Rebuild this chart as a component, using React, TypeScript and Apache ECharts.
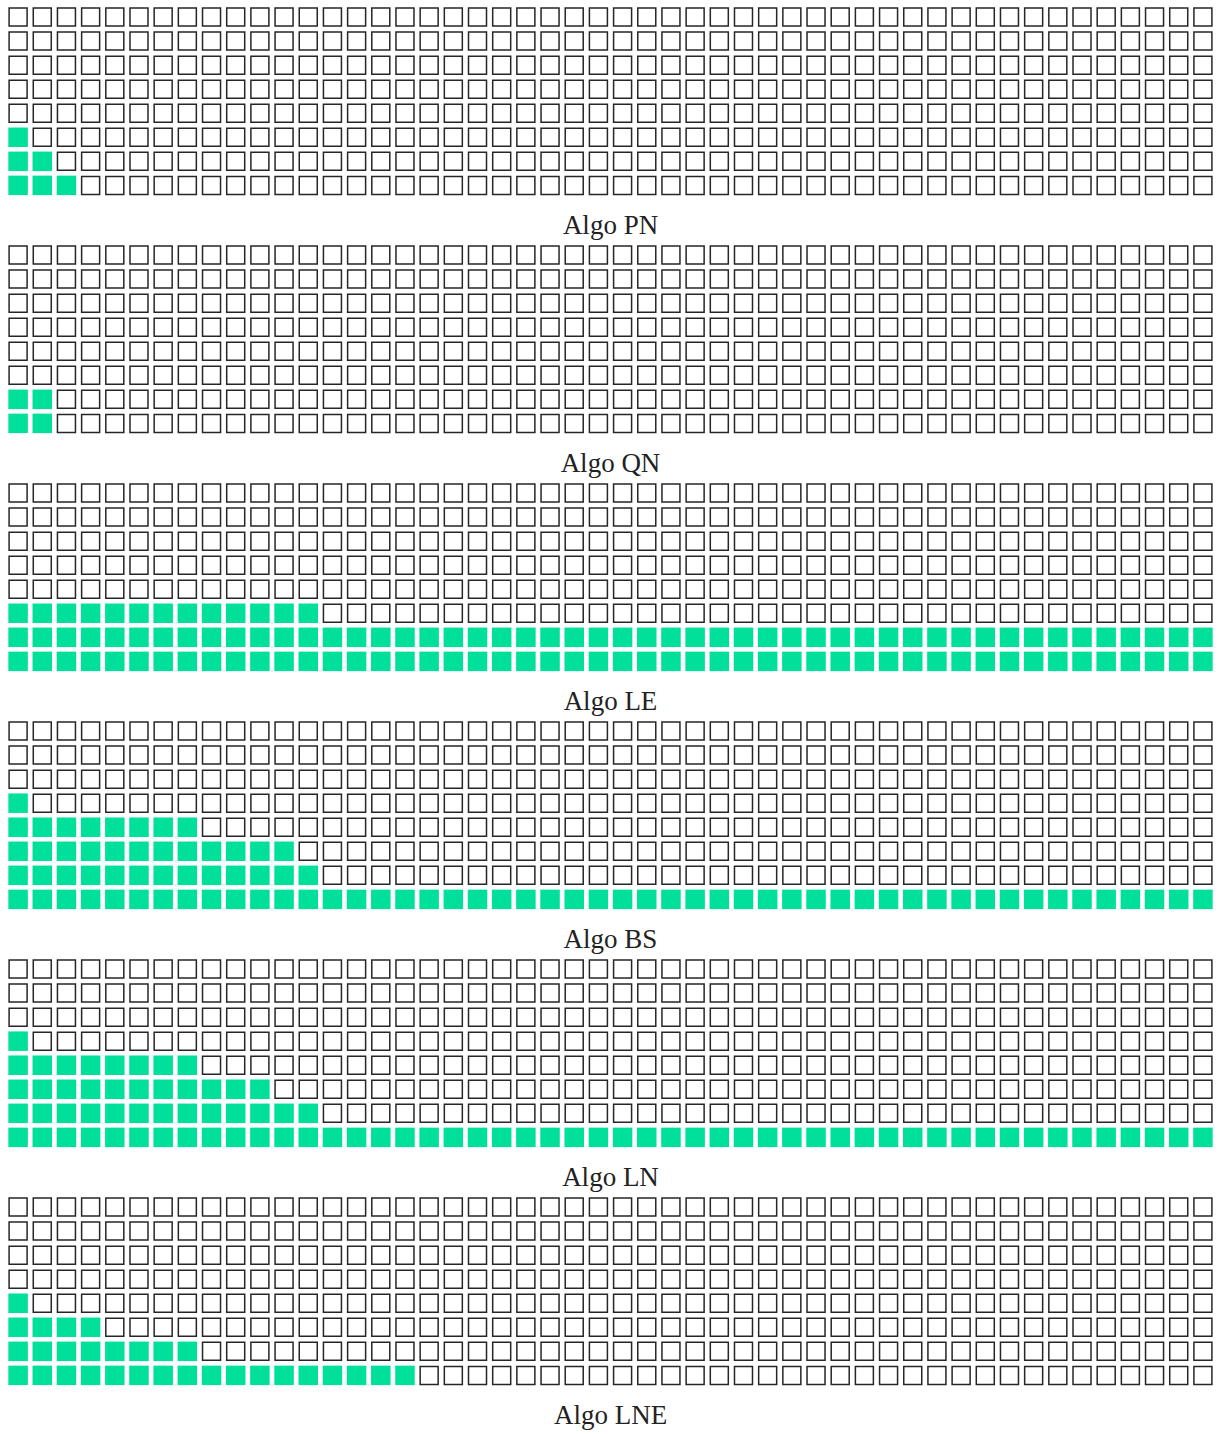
import React, { useEffect, useRef } from "react";
import * as echarts from "echarts";

// Panel titles (shown below each waffle grid)
const panelNames = ["Algo PN", "Algo QN", "Algo LE", "Algo BS", "Algo LN", "Algo LNE"];

const COLS = 50;
const ROWS = 8;

// Filled cells per row, listed from the bottom row upwards
const algoPN = [3, 2, 1, 0, 0, 0, 0, 0];
const algoQN = [2, 2, 0, 0, 0, 0, 0, 0];
const algoLE = [50, 50, 13, 0, 0, 0, 0, 0];
const algoBS = [50, 13, 12, 8, 1, 0, 0, 0];
const algoLN = [50, 13, 11, 8, 1, 0, 0, 0];
const algoLNE = [17, 8, 4, 1, 0, 0, 0, 0];

const panelCounts = [algoPN, algoQN, algoLE, algoBS, algoLN, algoLNE];

const colLabels = Array.from({ length: COLS }, (_, i) => String(i + 1));
const rowLabels = Array.from({ length: ROWS }, (_, i) => String(i + 1));

export default function App() {
  const ref = useRef<HTMLDivElement>(null);

  useEffect(() => {
    document.body.style.margin = "0";
    const chart = echarts.init(ref.current!, null, { renderer: "svg" });

    const grids: any[] = [];
    const xAxes: any[] = [];
    const yAxes: any[] = [];
    const series: any[] = [];
    const graphics: any[] = [];
    const PANEL_STEP = 238;

    panelCounts.forEach((counts, k) => {
      grids.push({ left: 6, width: 1209, top: 5 + PANEL_STEP * k, height: 192.4 });
      xAxes.push({ type: "category", gridIndex: k, data: colLabels, show: false, boundaryGap: true });
      yAxes.push({ type: "category", gridIndex: k, data: rowLabels, show: false, boundaryGap: true });
      const filled: number[][] = [];
      const empty: number[][] = [];
      for (let r = 0; r < ROWS; r++) {
        for (let c = 0; c < COLS; c++) {
          (c < counts[r] ? filled : empty).push([c, r]);
        }
      }
      series.push({
        type: "scatter",
        xAxisIndex: k,
        yAxisIndex: k,
        data: empty,
        symbol: "rect",
        symbolSize: 18,
        silent: true,
        itemStyle: { color: "#ffffff", borderColor: "#262626", borderWidth: 1.5, opacity: 1 },
      });
      series.push({
        type: "scatter",
        xAxisIndex: k,
        yAxisIndex: k,
        data: filled,
        symbol: "rect",
        symbolSize: 19.5,
        silent: true,
        itemStyle: { color: "#00E09A", opacity: 1 },
      });
      graphics.push({
        type: "text",
        x: 610.5,
        y: 225 + PANEL_STEP * k,
        style: {
          text: panelNames[k],
          textAlign: "center",
          textVerticalAlign: "middle",
          font: '27px "Liberation Serif", serif',
          fill: "#222222",
        },
      });
    });

    chart.setOption({
      animation: false,
      backgroundColor: "#ffffff",
      grid: grids,
      xAxis: xAxes,
      yAxis: yAxes,
      series,
      graphic: graphics,
    });

    return () => chart.dispose();
  }, []);

  return <div ref={ref} style={{ width: 1221, height: 1434 }} />;
}
